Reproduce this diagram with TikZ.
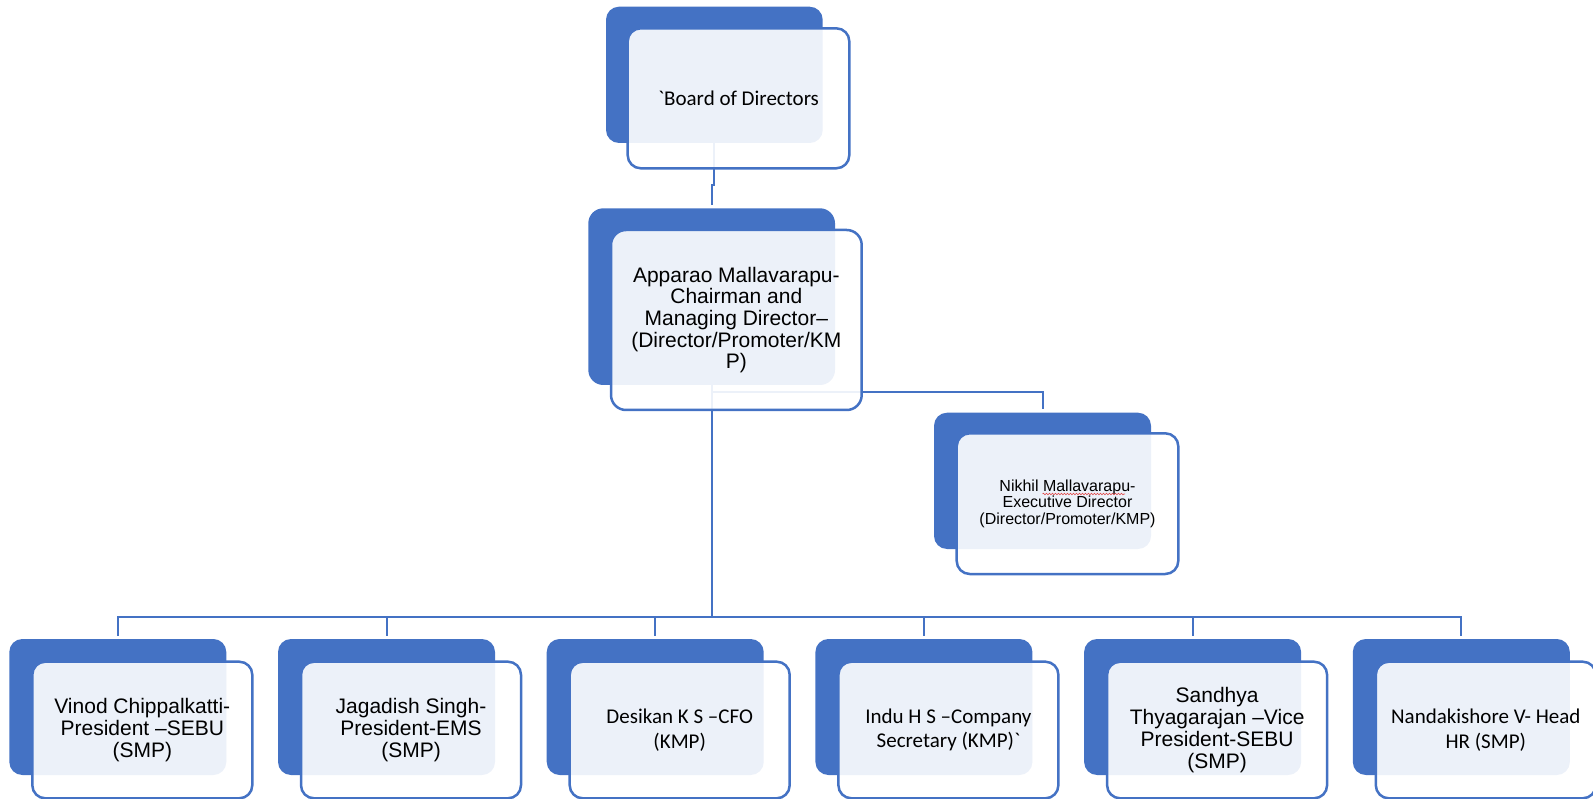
\documentclass[tikz,border=0pt]{standalone}
\usepackage{fontspec}
\setmainfont{Liberation Sans}
\newfontfamily\calibrifont{Carlito}[Ligatures=TeXOff]
\usetikzlibrary{calc,decorations.pathmorphing}
\definecolor{orgblue}{HTML}{4472C4}
\definecolor{spellred}{HTML}{E04848}
\pgfdeclarelayer{links}
\pgfsetlayers{links,main}

\tikzset{
  backbox/.style={fill=orgblue, rounded corners=13pt, inner sep=0pt,
                  minimum width=217pt, minimum height=136pt},
  frontbox/.style={draw=orgblue, line width=2.5pt, fill=white, fill opacity=0.9,
                   text opacity=1, text=black, rounded corners=13pt, inner sep=0pt,
                   minimum width=221pt, minimum height=140pt, align=center},
  sans/.style={font=\fontsize{21}{22}\selectfont},
  sanssmall/.style={font=\fontsize{16}{16.7}\selectfont},
  calib/.style={font=\calibrifont\fontsize{21}{24.5}\selectfont},
  link/.style={draw=orgblue, line width=2pt},
}

\begin{document}
\begin{tikzpicture}[x=1pt,y=-1pt]
\useasboundingbox (0,0) rectangle (1593,799);
\clip (0,0) rectangle (1593,799);

% top: board of directors
\node[backbox, minimum width=216.7pt, minimum height=136.3pt] (bodB) at (714.35,74.85) {};
\node[frontbox, calib, minimum width=221.6pt] (bodF) at (738.5,98.3) {`Board of Directors};

% chairman and managing director
\node[backbox, rounded corners=15pt, minimum width=246.7pt, minimum height=176.7pt] (cmdB) at (711.65,296.65) {};
\node[frontbox, sans, rounded corners=15pt, minimum width=250.7pt, minimum height=180pt,
      font=\fontsize{21}{21.7}\selectfont] (cmdF) at (736.35,320)
  {Apparao Mallavarapu-\\Chairman and\\Managing Director–\\(Director/Promoter/KM\\P)};

% executive director
\node[backbox, minimum height=136.3pt] (nikB) at (1042.5,480.85) {};
\node[frontbox, sanssmall, minimum width=221.6pt, minimum height=140.7pt] (nikF) at (1067.5,503.65)
  {Nikhil Mallavarapu-\\Executive Director\\(Director/Promoter/KMP)};
\draw[spellred, line width=0.6pt, decorate,
      decoration={snake, amplitude=0.8pt, segment length=3pt}]
  (1042.5,494) -- (1125,494);

% senior management row
\foreach \i/\txt/\sty in {
  1/{Vinod Chippalkatti-\\President –SEBU\\(SMP)}/sans,
  2/{Jagadish Singh-\\President-EMS\\(SMP)}/sans,
  3/{Desikan K S –CFO\\(KMP)}/calib,
  4/{Indu H S –Company\\Secretary (KMP)`}/calib,
  5/{Sandhya\\Thyagarajan –Vice\\President-SEBU\\(SMP)}/sans,
  6/{Nandakishore V- Head\\HR (SMP)}/calib}{
  \node[backbox] (bk\i) at ({117.8+268.7*(\i-1)},707) {};
  \node[frontbox, \sty, minimum width=220pt, minimum height=136.6pt] (fr\i)
    at ({142.3+268.7*(\i-1)},730) {\txt};
}

\coordinate (bus) at (0,617);

\begin{pgfonlayer}{links}
  \draw[link, shorten >=3pt] (bodB.south) -- ++(0,42) -| (cmdB.north);
  \draw[link] (cmdB.south) -- (cmdB.south |- bus);
  \draw[link, shorten >=3pt] (cmdB.south) ++(0,6.7) -| (nikB.north);
  \draw[link, shorten <=3pt, shorten >=3pt]
    (bk1.north) -- (bk1.north |- bus) -- (bk6.north |- bus) -- (bk6.north);
  \foreach \i in {2,...,5}
    \draw[link, shorten <=3pt] (bk\i.north) -- (bk\i.north |- bus);
\end{pgfonlayer}
\end{tikzpicture}
\end{document}
